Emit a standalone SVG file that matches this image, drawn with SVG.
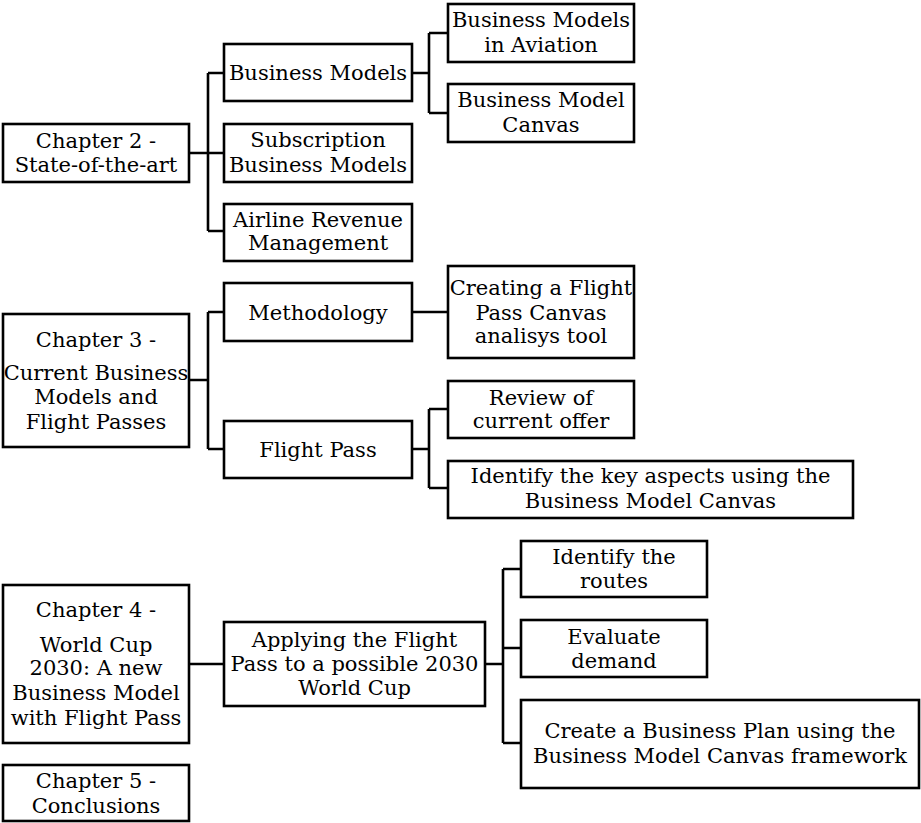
<svg xmlns="http://www.w3.org/2000/svg" width="921" height="823" viewBox="0 0 921 823">
<style>
.box{fill:#fff;stroke:#000;stroke-width:2.6}
.lbl{font-family:"DejaVu Serif","Liberation Serif",serif;font-size:21px;fill:#000;text-anchor:middle}
.conn{fill:none;stroke:#000;stroke-width:2.6}
</style>
<rect width="921" height="823" fill="#fff"/>
<g id="connectors">
<path class="conn" d="M189 153H224M208 73V231M208 73H224M208 231H224"/>
<path class="conn" d="M412 73H429M429 33V113M429 33H448M429 113H448"/>
<path class="conn" d="M189 380H208M208 312V449M208 312H224M208 449H224"/>
<path class="conn" d="M412 312H448"/>
<path class="conn" d="M412 449H429M429 409V488M429 409H448M429 488H448"/>
<path class="conn" d="M189 664H224"/>
<path class="conn" d="M485 664H503M503 569V743M503 569H521M503 648H521M503 743H521"/>
</g>
<g id="ch2"><rect class="box" x="3" y="124" width="186" height="58"/><text class="lbl" x="96" y="148">Chapter 2 -</text><text class="lbl" x="96" y="172">State-of-the-art</text></g>
<g id="bm"><rect class="box" x="224" y="44" width="188" height="57"/><text class="lbl" x="318" y="80">Business Models</text></g>
<g id="sub"><rect class="box" x="224" y="124" width="188" height="58"/><text class="lbl" x="318" y="147">Subscription</text><text class="lbl" x="318" y="172">Business Models</text></g>
<g id="arm"><rect class="box" x="224" y="204" width="188" height="57"/><text class="lbl" x="318" y="227">Airline Revenue</text><text class="lbl" x="318" y="250">Management</text></g>
<g id="bma"><rect class="box" x="448" y="4" width="186" height="58"/><text class="lbl" x="541" y="27">Business Models</text><text class="lbl" x="541" y="52">in Aviation</text></g>
<g id="bmc"><rect class="box" x="448" y="84" width="186" height="58"/><text class="lbl" x="541" y="107">Business Model</text><text class="lbl" x="541" y="132">Canvas</text></g>
<g id="ch3"><rect class="box" x="3" y="314" width="186" height="133"/><text class="lbl" x="96" y="347">Chapter 3 -</text><text class="lbl" x="96" y="380">Current Business</text><text class="lbl" x="96" y="404">Models and</text><text class="lbl" x="96" y="429">Flight Passes</text></g>
<g id="meth"><rect class="box" x="224" y="283" width="188" height="58"/><text class="lbl" x="318" y="320">Methodology</text></g>
<g id="fp"><rect class="box" x="224" y="421" width="188" height="57"/><text class="lbl" x="318" y="457">Flight Pass</text></g>
<g id="creating"><rect class="box" x="448" y="266" width="186" height="92"/><text class="lbl" x="541" y="295">Creating a Flight</text><text class="lbl" x="541" y="320">Pass Canvas</text><text class="lbl" x="541" y="343">analisys tool</text></g>
<g id="review"><rect class="box" x="448" y="381" width="186" height="57"/><text class="lbl" x="541" y="405">Review of</text><text class="lbl" x="541" y="428">current offer</text></g>
<g id="keyaspects"><rect class="box" x="448" y="461" width="405" height="57"/><text class="lbl" x="650.5" y="483">Identify the key aspects using the</text><text class="lbl" x="650.5" y="508">Business Model Canvas</text></g>
<g id="ch4"><rect class="box" x="3" y="585" width="186" height="158"/><text class="lbl" x="96" y="617">Chapter 4 -</text><text class="lbl" x="96" y="652">World Cup</text><text class="lbl" x="96" y="675">2030: A new</text><text class="lbl" x="96" y="700">Business Model</text><text class="lbl" x="96" y="725">with Flight Pass</text></g>
<g id="ch5"><rect class="box" x="3" y="765" width="186" height="56"/><text class="lbl" x="96" y="788">Chapter 5 -</text><text class="lbl" x="96" y="813">Conclusions</text></g>
<g id="applying"><rect class="box" x="224" y="622" width="261" height="84"/><text class="lbl" x="354.5" y="647">Applying the Flight</text><text class="lbl" x="354.5" y="671">Pass to a possible 2030</text><text class="lbl" x="354.5" y="695">World Cup</text></g>
<g id="routes"><rect class="box" x="521" y="541" width="186" height="56"/><text class="lbl" x="614" y="564">Identify the</text><text class="lbl" x="614" y="588">routes</text></g>
<g id="evaluate"><rect class="box" x="521" y="620" width="186" height="57"/><text class="lbl" x="614" y="644">Evaluate</text><text class="lbl" x="614" y="668">demand</text></g>
<g id="bizplan"><rect class="box" x="521" y="700" width="398" height="88"/><text class="lbl" x="720" y="738">Create a Business Plan using the</text><text class="lbl" x="720" y="763">Business Model Canvas framework</text></g>
</svg>
